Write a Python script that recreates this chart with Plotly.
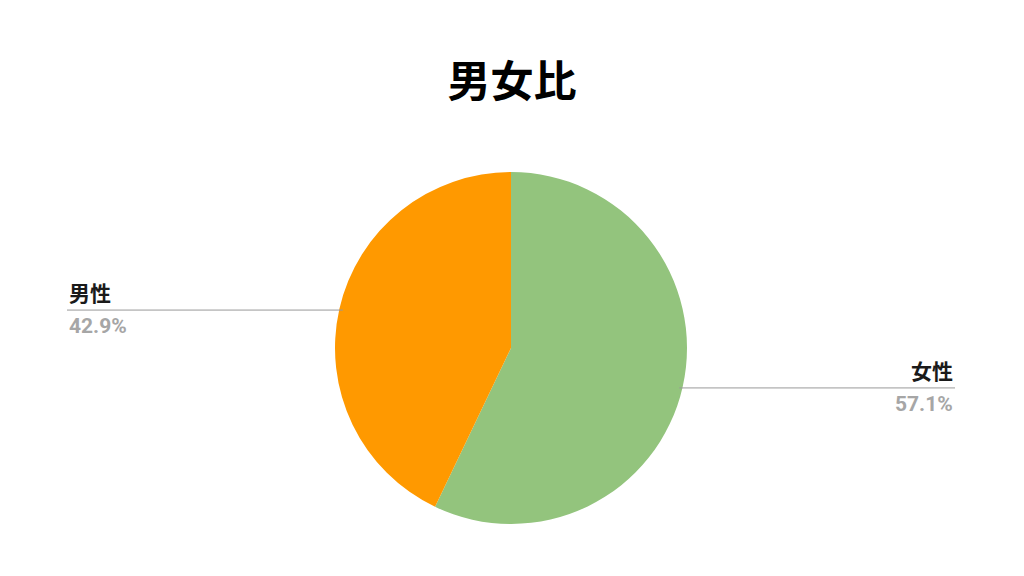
import math
import plotly.graph_objects as go

labels = ["女性", "男性"]
values = [57.1, 42.9]
colors = ["#93c47d", "#ff9900"]

W, H = 1024, 576
OFF = 8  # page body margin
cx, cy, r = 511 - OFF, 348 - OFF, 176
label_x = {"right": 955 - OFF, "left": 67 - OFF}

fig = go.Figure()
fig.add_trace(go.Pie(
    labels=labels, values=values, sort=False, direction="clockwise", rotation=0,
    marker=dict(colors=colors, line=dict(width=0)),
    textinfo="none", hoverinfo="label+percent", showlegend=False,
    domain=dict(x=[(cx - r) / W, (cx + r) / W], y=[(H - cy - r) / H, (H - cy + r) / H]),
))

total = sum(values)
start = 0.0
shapes = []
annotations = []
for lab, val in zip(labels, values):
    mid = start + val / total * 360 / 2
    start += val / total * 360
    ang = math.radians(90 - mid)
    px = cx + r * math.cos(ang) * 0.98
    py = cy - r * math.sin(ang) + 1
    side = "right" if math.cos(ang) > 0 else "left"
    ex = label_x[side]
    shapes.append(dict(type="line", xref="paper", yref="paper",
                       x0=px / W, x1=ex / W, y0=1 - py / H, y1=1 - py / H,
                       line=dict(color="#999999", width=1)))
    anchor = "right" if side == "right" else "left"
    annotations.append(dict(xref="paper", yref="paper", x=ex / W, y=1 - py / H,
                            xanchor=anchor, yanchor="bottom", yshift=1,
                            text="<b>%s</b>" % lab, showarrow=False,
                            font=dict(family="Noto Sans CJK JP", size=21, color="#1a1a1a")))
    annotations.append(dict(xref="paper", yref="paper", x=ex / W, y=1 - py / H,
                            xanchor=anchor, yanchor="top", yshift=-2,
                            text="<b>%.1f%%</b>" % (val / total * 100), showarrow=False,
                            font=dict(family="Roboto", size=21, color="#a6a6a6")))

fig.update_layout(
    width=W, height=H,
    margin=dict(l=0, r=0, t=0, b=0),
    paper_bgcolor="white", plot_bgcolor="white",
    title=dict(text="<b>男女比</b>", x=(512 - OFF) / W, xanchor="center", y=1 - (82 - OFF) / H,
               yanchor="middle",
               font=dict(family="Noto Sans CJK JP", size=43, color="#000000")),
    shapes=shapes, annotations=annotations,
)

fig.write_html("out.html")
